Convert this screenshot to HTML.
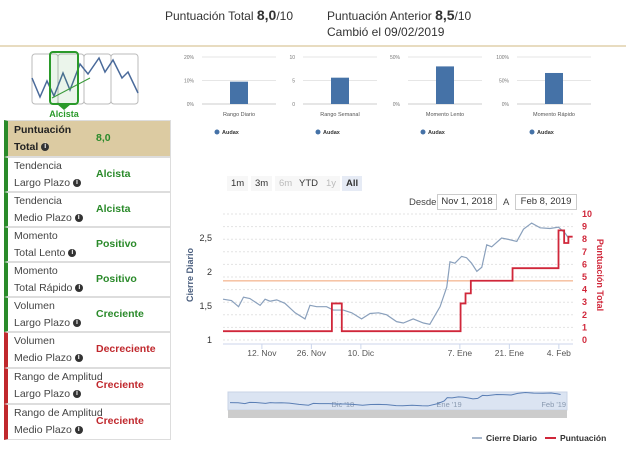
<!DOCTYPE html>
<html><head><meta charset="utf-8"><style>
body{margin:0;width:626px;height:450px;background:#fff;font-family:"Liberation Sans",sans-serif;position:relative;overflow:hidden}
.abs{position:absolute}
.row{position:absolute;left:4px;width:162px;border:1px solid #ddd;border-left:4px solid #2a8a2a;font-size:10.5px;color:#444;line-height:17px}
.row .l{position:absolute;left:6px;top:0}
.row .v{position:absolute;left:88px;font-weight:bold;color:#2a8a2a;font-size:10.5px}
.red{border-left-color:#c0282d}
.red .v{color:#c0282d}
.i{display:inline-block;width:8px;height:8px;border-radius:50%;background:#333;color:#fff;font-size:7px;line-height:8px;text-align:center;font-weight:bold;vertical-align:middle}
.btn{position:absolute;top:176px;font-size:9.5px;color:#333;padding:2px 4px;background:#f7f7f7}
</style></head><body>
<div class="abs" style="left:165px;top:7px;font-size:12px;color:#333">Puntuación Total <b style="font-size:14px">8,0</b>/10</div>
<div class="abs" style="left:327px;top:7px;font-size:12px;color:#333">Puntuación Anterior <b style="font-size:14px">8,5</b>/10</div>
<div class="abs" style="left:327px;top:25px;font-size:12px;color:#333">Cambió el 09/02/2019</div>
<div class="abs" style="left:0;top:45px;width:626px;height:2px;background:#e8dcc0"></div>

<svg class="abs" style="left:0;top:48px" width="175" height="72">
<rect x="32" y="6" width="26" height="50" rx="3" fill="none" stroke="#bbb"/>
<rect x="58" y="6" width="26" height="50" rx="3" fill="none" stroke="#bbb"/>
<rect x="84" y="6" width="27" height="50" rx="3" fill="none" stroke="#bbb"/>
<rect x="111" y="6" width="27" height="50" rx="3" fill="none" stroke="#bbb"/>
<polyline points="32,30 40,49 47,33 54,48 63,25 70,42 80,16 88,26 99,10 105,24 113,12 122,30 128,24 138,45" fill="none" stroke="#4a6a9a" stroke-width="1.5"/>
<line x1="52" y1="50" x2="90" y2="30" stroke="#3a9a3a" stroke-width="1"/>
<rect x="50" y="4" width="28" height="52" rx="3" fill="rgba(60,160,60,0.1)" stroke="#2a9a2a" stroke-width="2"/>
<polygon points="57,56 71,56 64,62" fill="#2a9a2a"/>
<text x="64" y="69" text-anchor="middle" font-size="9" font-weight="bold" fill="#2a9a2a">Alcista</text>
</svg>

<div class="row" style="top:120px;height:35px;background:#dccba2;color:#222;font-weight:bold"><div class="l" style="top:1px">Puntuación<br>Total <span class="i">i</span></div><div class="v" style="top:9px">8,0</div></div>
<div class="row" style="top:157px;height:33px"><div class="l">Tendencia<br>Largo Plazo <span class="i">i</span></div><div class="v" style="top:8px">Alcista</div></div>
<div class="row" style="top:192px;height:33px"><div class="l">Tendencia<br>Medio Plazo <span class="i">i</span></div><div class="v" style="top:8px">Alcista</div></div>
<div class="row" style="top:227px;height:33px"><div class="l">Momento<br>Total Lento <span class="i">i</span></div><div class="v" style="top:8px">Positivo</div></div>
<div class="row" style="top:262px;height:33px"><div class="l">Momento<br>Total Rápido <span class="i">i</span></div><div class="v" style="top:8px">Positivo</div></div>
<div class="row" style="top:297px;height:33px"><div class="l">Volumen<br>Largo Plazo <span class="i">i</span></div><div class="v" style="top:8px">Creciente</div></div>
<div class="row red" style="top:332px;height:34px"><div class="l">Volumen<br>Medio Plazo <span class="i">i</span></div><div class="v" style="top:8px">Decreciente</div></div>
<div class="row red" style="top:368px;height:34px"><div class="l">Rango de Amplitud<br>Largo Plazo <span class="i">i</span></div><div class="v" style="top:8px">Creciente</div></div>
<div class="row red" style="top:404px;height:34px"><div class="l">Rango de Amplitud<br>Medio Plazo <span class="i">i</span></div><div class="v" style="top:8px">Creciente</div></div>

<svg class="abs" style="left:0;top:0" width="626" height="150" id="bars"></svg>

<span class="btn" style="left:227px">1m</span>
<span class="btn" style="left:251px">3m</span>
<span class="btn" style="left:275px;color:#bbb">6m</span>
<span class="btn" style="left:295px">YTD</span>
<span class="btn" style="left:322px;color:#bbb">1y</span>
<span class="btn" style="left:342px;background:#e6ebf5;font-weight:bold">All</span>
<div class="abs" style="left:409px;top:197px;font-size:9.5px;color:#444">Desde</div>
<div class="abs" style="left:437px;top:194px;width:58px;height:14px;border:1px solid #ccc;font-size:9.5px;color:#333;text-align:center;line-height:14px">Nov 1, 2018</div>
<div class="abs" style="left:503px;top:197px;font-size:9.5px;color:#444">A</div>
<div class="abs" style="left:515px;top:194px;width:60px;height:14px;border:1px solid #ccc;font-size:9.5px;color:#333;text-align:center;line-height:14px">Feb 8, 2019</div>

<svg class="abs" style="left:0;top:0" width="626" height="450" id="main"></svg>

<script>
// ---- small indicator bar charts ----
const barCategories=["Rango Diario","Rango Semanal","Momento Lento","Momento Rápido"];
const barValues=[9.5,5.6,40,66];
const barMax=[20,10,50,100];
const barTickLabels=[["0%","10%","20%"],["0","5","10"],["0%","","50%"],["0%","50%","100%"]];
const NS="http://www.w3.org/2000/svg";
function mk(parent,tag,attrs,text){const e=document.createElementNS(NS,tag);for(const k in attrs)e.setAttribute(k,attrs[k]);if(text!==undefined)e.textContent=text;parent.appendChild(e);return e;}
const bars=document.getElementById('bars');
const plotLeft=[202,303,408,517];
barCategories.forEach((c,i)=>{
  const x0=plotLeft[i],w=74,yTop=57,yBot=104;
  const ys=v=>yBot-(v/barMax[i])*(yBot-yTop);
  for(let t=0;t<3;t++){
    const yy=yBot-t*(yBot-yTop)/2;
    const g=mk(bars,'line',{x1:x0,x2:x0+w,y1:yy,y2:yy,stroke:t?'#e6e6e6':'#ccc'});
    
    
    const tl=mk(bars,'text',{x:x0-8,y:yy+2,'text-anchor':'end','font-size':5,fill:'#777'},barTickLabels[i][t]);
    
    
  }
  const r=mk(bars,'rect',{x:x0+(w-18)/2,y:ys(barValues[i]),width:18,height:yBot-ys(barValues[i]),fill:'#4572a7'});
  
  
  const cl=mk(bars,'text',{x:x0+w/2,y:116,'text-anchor':'middle','font-size':5.5,fill:'#555'},c);
  
  
  const d=mk(bars,'circle',{cx:x0+15,cy:132,r:2.5,fill:'#4572a7'});
  
  
  const lt=mk(bars,'text',{x:x0+20,y:134,'font-size':5.5,'font-weight':'bold',fill:'#333'},'Audax');
  
  
});

// ---- main chart ----
const priceDays=[0,2.4,4.4,5.8,7.6,10.5,11.9,13.3,15.2,17.5,20.4,23.2,24.6,26.5,29.3,31.2,34,36.4,39.2,41.6,44,46.3,49.1,51,53.8,56.7,58.5,61.4,63.3,64.2,65.6,67.5,68.9,70.3,71.8,73.2,74.6,76,78.8,80.7,83.1,85,87.3,89.7,92.5,94.9,96.8,97.7];
const priceValues=[1.6,1.58,1.49,1.63,1.61,1.51,1.6,1.57,1.59,1.54,1.4,1.31,1.51,1.49,1.49,1.44,1.44,1.4,1.31,1.39,1.4,1.37,1.27,1.25,1.31,1.25,1.23,1.49,1.78,2.15,2.13,2.23,2.21,2.13,2.01,2.07,2.4,2.37,2.5,2.48,2.45,2.63,2.72,2.65,2.64,2.66,2.57,2.5];
const scoreDays=[0,30.8,33.6,67.2,68.6,70.1,81.9,94.9,96.5,97.7,98.9];
const scoreValues=[0.7,2.9,0.7,2.9,3.7,4.7,5.7,8.7,7.7,8.2,8.2];
const thresholdValue=1.87;
const leftTicks=[1,1.5,2,2.5];
const leftTickLabels=["1","1,5","2","2,5"];
const rightTicks=[0,1,2,3,4,5,6,7,8,9,10];
const xTickDays=[11,25,39,67,81,95];
const xTickLabels=["12. Nov","26. Nov","10. Dic","7. Ene","21. Ene","4. Feb"];
const navLabels=["Dic '18","Ene '19","Feb '19"];
const navDays=[30,61,92];

const svg=document.getElementById('main');
const X0=223,X1=573,DAYS=99;
const xs=d=>X0+d*(X1-X0)/DAYS;
const yl=v=>340-(v-1)*68;
const yr=v=>340-v*12.6;
// grid
rightTicks.forEach(t=>{
  const g=mk(svg,'line',{x1:X0,x2:X1,y1:yr(t),y2:yr(t),stroke:'#e3e3e3','stroke-dasharray':'2,2'});
  
  
  const l=mk(svg,'text',{x:582,y:yr(t)+3,'font-size':9,fill:'#d0273a','font-weight':'bold'},String(t));
  
  
});
leftTicks.forEach((t,i)=>{
  const l=mk(svg,'text',{x:212,y:yl(t)+3,'text-anchor':'end','font-size':9,fill:'#333'},leftTickLabels[i]);
  
  
});
const ax=mk(svg,'line',{x1:X0,x2:X1,y1:344,y2:344,stroke:'#ccd6eb'});


xTickDays.forEach((d,i)=>{
  const t=mk(svg,'line',{x1:xs(d),x2:xs(d),y1:344,y2:349,stroke:'#ccd6eb'});
  
  
  const l=mk(svg,'text',{x:xs(d),y:356,'text-anchor':'middle','font-size':8.5,fill:'#555'},xTickLabels[i]);
  
  
});
const th=mk(svg,'line',{x1:X0,x2:X1,y1:yl(thresholdValue),y2:yl(thresholdValue),stroke:'#f0a070','stroke-width':1});


const pp=mk(svg,'polyline',{points:priceDays.map((d,i)=>xs(d)+','+yl(priceValues[i])).join(' '),fill:'none',stroke:'#8aa0bc','stroke-width':1.2});


let sp=[];scoreDays.forEach((d,i)=>{if(i>0)sp.push(xs(d)+','+yr(scoreValues[i-1]));sp.push(xs(d)+','+yr(scoreValues[i]));});
const sl=mk(svg,'polyline',{points:sp.join(' '),fill:'none',stroke:'#d0273a','stroke-width':1.8});


const lt=mk(svg,'text',{x:0,y:0,'font-size':9,'font-weight':'bold',fill:'#4a5e7e',transform:'translate(193,275) rotate(-90)','text-anchor':'middle'},'Cierre Diario');


const rt=mk(svg,'text',{x:0,y:0,'font-size':9,'font-weight':'bold',fill:'#d0273a',transform:'translate(597,275) rotate(90)','text-anchor':'middle'},'Puntuación Total');


// navigator
const nx=d=>230+d*(565-230)/DAYS;
const ny=v=>408-(v-1)*9;
const nb=mk(svg,'rect',{x:228,y:392,width:339,height:18,fill:'#dbe4f2',stroke:'#c8d3e6'});


navDays.forEach((d,i)=>{
  const l=mk(svg,'text',{x:nx(d),y:407,'font-size':7.5,fill:'#8a9ab0'},navLabels[i]);
  
  
});
const np=mk(svg,'polyline',{points:priceDays.map((d,i)=>nx(d)+','+ny(priceValues[i])).join(' '),fill:'none',stroke:'#5b7fb5','stroke-width':1});


const sb=mk(svg,'rect',{x:228,y:410,width:339,height:8,fill:'#ccc'});


// legend
const l1=mk(svg,'line',{x1:472,x2:482,y1:438,y2:438,stroke:'#8aa0bc','stroke-width':1.5});


const l1t=mk(svg,'text',{x:486,y:441,'font-size':8.5,'font-weight':'bold',fill:'#333'},'Cierre Diario');


const l2=mk(svg,'line',{x1:545,x2:556,y1:438,y2:438,stroke:'#d0273a','stroke-width':2});


const l2t=mk(svg,'text',{x:560,y:441,'font-size':8.5,'font-weight':'bold',fill:'#333'},'Puntuación');


</script>
</body></html>
